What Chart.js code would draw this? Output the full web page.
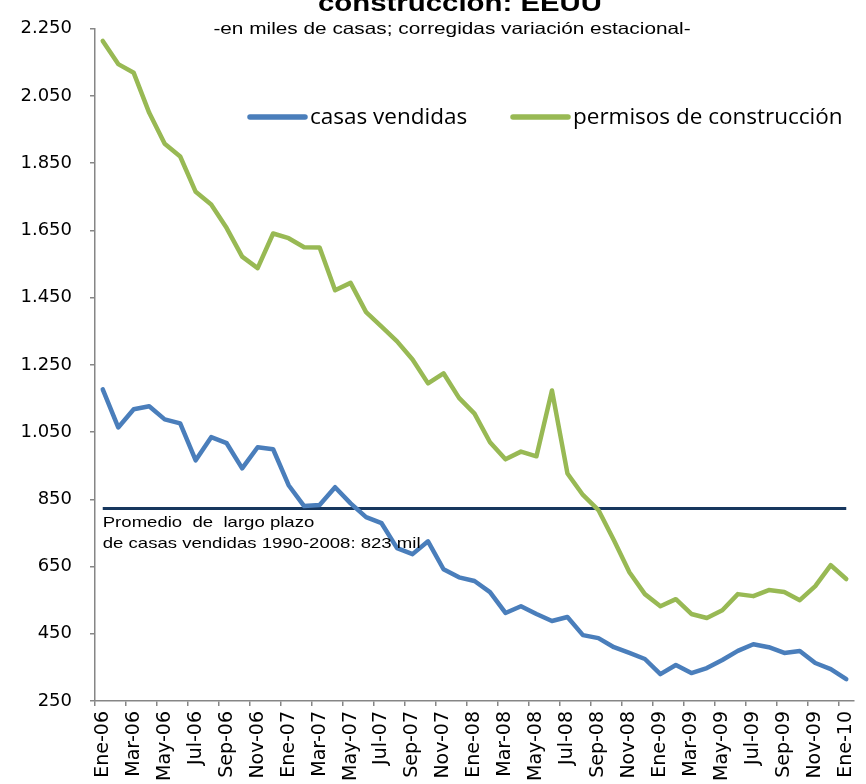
<!DOCTYPE html>
<html>
<head>
<meta charset="utf-8">
<script src="https://cdn.jsdelivr.net/npm/chart.js@4.4.1/dist/chart.umd.min.js"></script>
<style>
html,body{margin:0;padding:0;background:#ffffff;}
#wrap{width:866px;height:784px;position:relative;}
</style>
</head>
<body>
<div id="wrap"><canvas id="c" width="866" height="784"></canvas></div>
<script>
const meses = [
  'Ene-06','Feb-06','Mar-06','Abr-06','May-06','Jun-06','Jul-06','Ago-06','Sep-06','Oct-06','Nov-06','Dic-06',
  'Ene-07','Feb-07','Mar-07','Abr-07','May-07','Jun-07','Jul-07','Ago-07','Sep-07','Oct-07','Nov-07','Dic-07',
  'Ene-08','Feb-08','Mar-08','Abr-08','May-08','Jun-08','Jul-08','Ago-08','Sep-08','Oct-08','Nov-08','Dic-08',
  'Ene-09','Feb-09','Mar-09','Abr-09','May-09','Jun-09','Jul-09','Ago-09','Sep-09','Oct-09','Nov-09','Dic-09',
  'Ene-10'
];
const casasVendidas = [
  1177,1064,1118,1127,1088,1076,966,1035,1017,942,1005,999,
  892,830,833,886,838,797,779,705,687,725,642,618,
  607,574,512,532,509,488,500,446,437,410,393,375,
  330,357,333,348,372,399,419,410,393,399,363,345,
  315
];
const permisosConstruccion = [
  2214,2145,2119,2000,1908,1870,1765,1727,1657,1572,1538,1641,
  1627,1600,1599,1472,1494,1407,1364,1320,1266,1195,1225,1152,
  1105,1020,969,992,978,1174,927,863,818,728,633,568,
  532,553,509,497,520,568,562,580,574,550,592,654,
  613
];
const promedioLargoPlazo = 823;
const yTicksMin = 250, yTicksMax = 2250, yTicksStep = 200;
const serieNombres = ['casas vendidas', 'permisos de construcción'];
const tituloTexto = 'construcción: EEUU';
const subtituloTexto = '-en miles de casas; corregidas variación estacional-';
const notaLineas = ['Promedio  de  largo plazo', 'de casas vendidas 1990-2008: 823 mil'];

const AZUL = '#4A7EBB', VERDE = '#98B954', MARINO = '#17375E', GRIS = '#868686';

function fmtMiles(v){ return String(v).replace(/\B(?=(\d{3})+(?!\d))/g, '.'); }

function stretchedText(ctx, txt, x, y, font, sx, align){
  ctx.save();
  ctx.font = font;
  ctx.textBaseline = 'alphabetic';
  const w = ctx.measureText(txt).width * sx;
  let left = x;
  if (align === 'center') left = x - w/2;
  ctx.translate(left, y);
  ctx.scale(sx, 1);
  ctx.textAlign = 'left';
  ctx.fillText(txt, 0, 0);
  ctx.restore();
}

const decor = {
  id: 'decor',
  afterDraw(chart){
    const ctx = chart.ctx;
    const xs = chart.scales.x, ys = chart.scales.y;
    ctx.save();
    ctx.fillStyle = '#000';
    stretchedText(ctx, tituloTexto, 460, 11, 'bold 23.5px "Liberation Sans", Arial, sans-serif', 1.25, 'center');
    stretchedText(ctx, subtituloTexto, 452, 34, '16.5px "Liberation Sans", Arial, sans-serif', 1.26, 'center');
    const nx = xs.getPixelForValue(0);
    const ny = ys.getPixelForValue(promedioLargoPlazo);
    stretchedText(ctx, notaLineas[0], nx, ny + 19, '14.5px "Liberation Sans", Arial, sans-serif', 1.28, 'left');
    stretchedText(ctx, notaLineas[1], nx, ny + 40, '14.5px "Liberation Sans", Arial, sans-serif', 1.28, 'left');
    const items = [
      {name: serieNombres[0], color: AZUL, x0: 250},
      {name: serieNombres[1], color: VERDE, x0: 513}
    ];
    ctx.font = '22.5px "Open Sans", sans-serif';
    ctx.textBaseline = 'alphabetic';
    ctx.textAlign = 'left';
    items.forEach(it => {
      ctx.strokeStyle = it.color;
      ctx.lineWidth = 5.5;
      ctx.lineCap = 'round';
      ctx.beginPath();
      ctx.moveTo(it.x0, 117);
      ctx.lineTo(it.x0 + 55, 117);
      ctx.stroke();
      ctx.fillStyle = '#000';
      ctx.fillText(it.name, it.x0 + 60, 124);
    });
    ctx.restore();
  }
};

new Chart(document.getElementById('c'), {
  type: 'line',
  data: {
    labels: meses,
    datasets: [
      {
        label: serieNombres[0], data: casasVendidas,
        borderColor: AZUL, backgroundColor: AZUL, borderWidth: 4.5,
        pointRadius: 0, tension: 0, borderJoinStyle: 'round', borderCapStyle: 'round'
      },
      {
        label: serieNombres[1], data: permisosConstruccion,
        borderColor: VERDE, backgroundColor: VERDE, borderWidth: 4.5,
        pointRadius: 0, tension: 0, borderJoinStyle: 'round', borderCapStyle: 'round'
      },
      {
        label: 'Promedio', data: meses.map(() => promedioLargoPlazo),
        borderColor: MARINO, backgroundColor: MARINO, borderWidth: 3,
        pointRadius: 0, tension: 0
      }
    ]
  },
  options: {
    responsive: false,
    animation: false,
    devicePixelRatio: 1,
    layout: { padding: { top: 28, right: 12, left: 0, bottom: 0 } },
    plugins: { legend: { display: false }, tooltip: { enabled: false }, title: { display: false } },
    scales: {
      x: {
        type: 'category',
        offset: true,
        grid: {
          display: true, drawOnChartArea: false, drawTicks: true, tickLength: 5, offset: true,
          lineWidth: 1.5,
          color: (c) => (c.type === 'tick' && c.index % 2 === 0) ? GRIS : 'rgba(0,0,0,0)'
        },
        border: { display: true, color: GRIS, width: 1.5 },
        ticks: {
          autoSkip: false, maxRotation: 90, minRotation: 90, padding: 5,
          color: '#000', font: { family: '"DejaVu Sans", sans-serif', size: 19 },
          callback: (v, i) => (i % 2 === 0 ? meses[i] : '')
        },
        afterCalculateLabelRotation: (s) => { s.labelRotation = 90; },
        afterFit: (s) => { s.height = 83; s.paddingLeft = 0; s.paddingRight = 0; }
      },
      y: {
        min: yTicksMin, max: yTicksMax,
        grid: { display: true, drawOnChartArea: false, drawTicks: true, tickLength: 5, color: GRIS, lineWidth: 1.5 },
        border: { display: true, color: GRIS, width: 1.5 },
        ticks: {
          stepSize: yTicksStep, padding: 18, color: '#000',
          font: { family: '"DejaVu Sans", sans-serif', size: 18 },
          callback: (v) => fmtMiles(v)
        },
        afterFit: (s) => { s.width = 95; }
      }
    }
  },
  plugins: [decor]
});
</script>
</body>
</html>
